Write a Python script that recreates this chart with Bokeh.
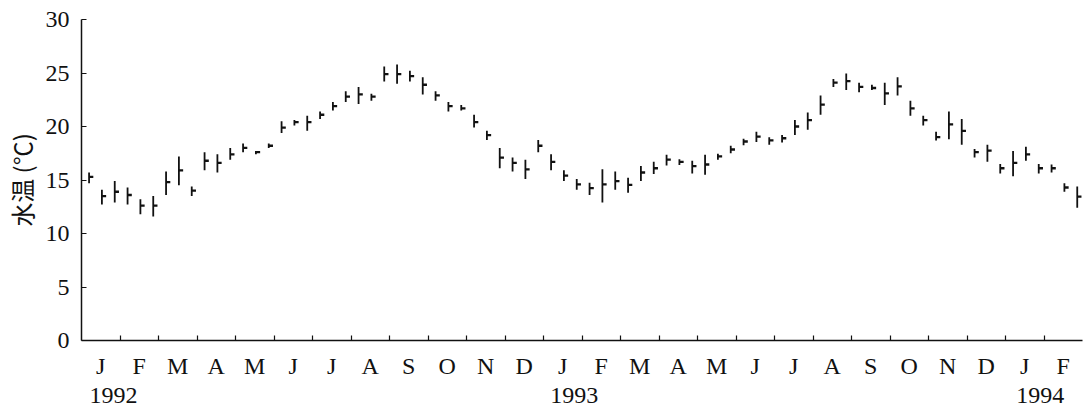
from bokeh.plotting import figure
from bokeh.models import FixedTicker, Range1d, LinearAxis
from bokeh.embed import file_html
from bokeh.resources import INLINE

# ten-day (旬) water temperature, Jan 1992 - Feb 1994, 3 values per month
month_labels = ["J", "F", "M", "A", "M", "J", "J", "A", "S", "O", "N", "D",
                "J", "F", "M", "A", "M", "J", "J", "A", "S", "O", "N", "D",
                "J", "F"]
year_labels = ["1992", "1993", "1994"]
year_pos = [0.83, 12.8, 24.9]

t_mean = [15.3, 13.5, 13.9, 13.6, 12.6, 12.6, 14.8, 15.9, 14.0, 16.8, 16.6, 17.4,
          18.0, 17.6, 18.2, 19.9, 20.4, 20.4, 21.1, 21.9, 22.8, 23.0, 22.8, 24.9,
          24.9, 24.7, 23.9, 22.9, 21.9, 21.7, 20.4, 19.2, 17.1, 16.6, 16.0, 18.2,
          16.7, 15.4, 14.6, 14.25, 14.6, 14.9, 14.55, 15.7, 16.1, 16.9, 16.7, 16.3,
          16.45, 17.2, 17.85, 18.6, 19.05, 18.7, 18.9, 20.0, 20.6, 22.05, 24.1, 24.25,
          23.7, 23.6, 23.1, 23.75, 21.7, 20.6, 19.0, 20.2, 19.6, 17.6, 17.75, 16.1,
          16.6, 17.4, 16.1, 16.1, 14.3, 13.45]
t_max = [15.7, 14.1, 14.9, 14.3, 13.2, 13.5, 15.8, 17.2, 14.4, 17.6, 17.4, 18.0,
         18.4, 17.7, 18.4, 20.5, 20.6, 21.0, 21.4, 22.3, 23.3, 23.7, 23.05, 25.6,
         25.8, 25.2, 24.6, 23.3, 22.3, 22.0, 21.1, 19.6, 18.0, 17.1, 16.9, 18.75,
         17.4, 15.9, 15.1, 14.75, 16.0, 15.8, 15.2, 16.3, 16.7, 17.35, 16.95, 16.8,
         17.35, 17.45, 18.2, 18.85, 19.5, 19.0, 19.2, 20.6, 21.3, 22.9, 24.45, 24.95,
         24.1, 23.9, 24.1, 24.6, 22.4, 21.0, 19.5, 21.4, 20.7, 17.9, 18.3, 16.5,
         17.7, 18.1, 16.5, 16.45, 14.7, 14.4]
t_min = [14.7, 12.7, 12.9, 12.7, 11.8, 11.6, 13.6, 14.5, 13.5, 15.9, 15.7, 16.9,
         17.6, 17.4, 18.0, 19.4, 20.1, 19.6, 20.7, 21.5, 22.3, 22.1, 22.4, 24.2,
         24.0, 24.2, 23.0, 22.4, 21.4, 21.5, 19.9, 18.75, 16.1, 15.8, 15.1, 17.6,
         15.9, 14.9, 14.1, 13.6, 12.9, 14.1, 13.8, 14.9, 15.55, 16.35, 16.4, 15.6,
         15.5, 16.9, 17.5, 18.25, 18.55, 18.3, 18.5, 19.2, 19.7, 21.1, 23.7, 23.4,
         23.2, 23.4, 22.0, 22.9, 21.0, 20.1, 18.7, 18.8, 18.3, 17.1, 16.7, 15.6,
         15.35, 16.8, 15.6, 15.7, 13.9, 12.4]

n = len(t_mean)
xs = [i // 3 + (i % 3 + 0.5) / 3 + 0.03 for i in range(n)]
xs_tick = [x + 0.11 for x in xs]

FONT = "Liberation Serif"
INK = "#111111"

p = figure(width=1083, height=410, x_range=Range1d(0, 26), y_range=Range1d(0, 30),
           output_backend="svg", toolbar_location=None,
           min_border_left=78, min_border_right=1, min_border_top=19, min_border_bottom=70)
p.grid.visible = False
p.outline_line_color = None
p.background_fill_color = "white"
p.border_fill_color = "white"

p.segment(x0=xs, y0=t_min, x1=xs, y1=t_max, line_color=INK, line_width=1.8)
p.segment(x0=xs, y0=t_mean, x1=xs_tick, y1=t_mean, line_color=INK, line_width=2.3)

centers = [m + 0.5 for m in range(26)]
xa = p.xaxis[0]
xa.ticker = FixedTicker(ticks=centers, minor_ticks=list(range(1, 26)))
xa.major_label_overrides = {c: lab for c, lab in zip(centers, month_labels)}
xa.major_tick_in = 0
xa.major_tick_out = 0
xa.minor_tick_in = 5
xa.minor_tick_out = 0
xa.minor_tick_line_color = INK
xa.minor_tick_line_width = 1.2
xa.axis_line_color = INK
xa.axis_line_width = 1.5
xa.major_label_standoff = 12
xa.major_label_text_font = FONT
xa.major_label_text_font_size = "24px"
xa.major_label_text_color = INK

year_axis = LinearAxis(ticker=FixedTicker(ticks=year_pos, minor_ticks=[]),
                       major_label_overrides={x: t for x, t in zip(year_pos, year_labels)},
                       axis_line_color=None, major_tick_in=0, major_tick_out=0,
                       minor_tick_in=0, minor_tick_out=0,
                       major_label_standoff=6,
                       major_label_text_font=FONT, major_label_text_font_size="24px",
                       major_label_text_color=INK)
p.add_layout(year_axis, "below")

ya = p.yaxis[0]
ya.ticker = FixedTicker(ticks=[0, 5, 10, 15, 20, 25, 30], minor_ticks=[])
ya.major_tick_in = 5
ya.major_tick_out = 0
ya.major_tick_line_color = INK
ya.axis_line_color = INK
ya.axis_line_width = 1.5
ya.major_label_standoff = 12
ya.major_label_text_font = FONT
ya.major_label_text_font_size = "24px"
ya.major_label_text_color = INK
ya.axis_label = "水温 (℃)"
ya.axis_label_text_font = "Noto Sans CJK SC"
ya.axis_label_text_font_size = "24px"
ya.axis_label_text_font_style = "normal"
ya.axis_label_text_color = INK
ya.axis_label_standoff = 4

open("out.html", "w").write(file_html(p, INLINE))
